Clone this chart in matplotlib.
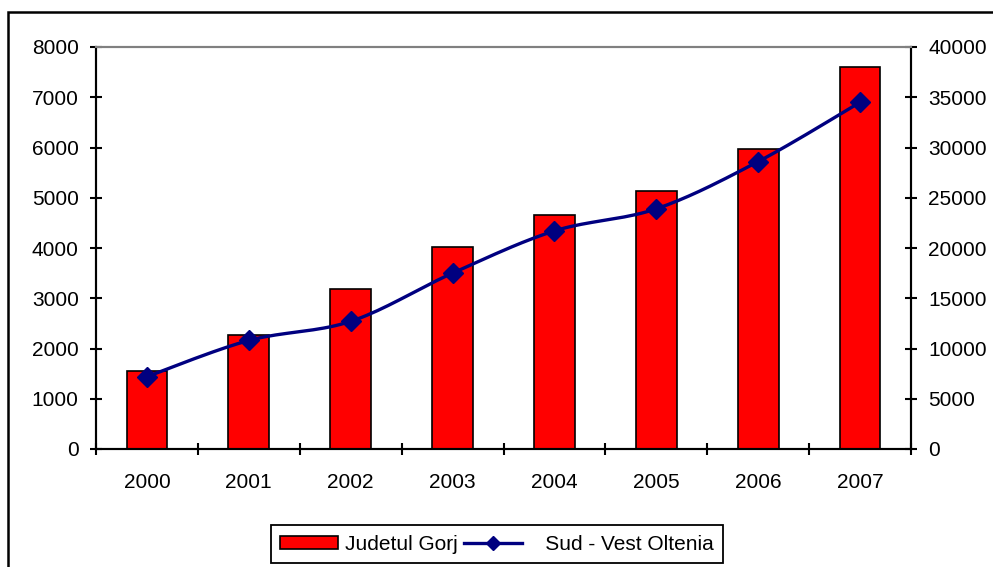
import numpy as np
import matplotlib
matplotlib.use("Agg")
import matplotlib.pyplot as plt
from matplotlib.patches import Rectangle

years = ["2000", "2001", "2002", "2003", "2004", "2005", "2006", "2007"]
gorj = [1550, 2270, 3180, 4020, 4650, 5130, 5970, 7600]
oltenia = [7200, 10800, 12700, 17500, 21700, 23900, 28600, 34500]


def smooth(xs, ys, steps=20):
    # catmull-rom style smoothing, like Excel's "smoothed line"
    xs = np.asarray(xs, float)
    ys = np.asarray(ys, float)
    px = np.concatenate([[xs[0]], xs, [xs[-1]]])
    py = np.concatenate([[ys[0]], ys, [ys[-1]]])
    out_x, out_y = [], []
    t = np.linspace(0, 1, steps)
    for i in range(1, len(px) - 2):
        p0, p1, p2, p3 = (np.array([px[j], py[j]]) for j in range(i - 1, i + 3))
        c1 = p1 + (p2 - p0) / 6
        c2 = p2 - (p3 - p1) / 6
        seg = ((1 - t) ** 3)[:, None] * p1 + (3 * (1 - t) ** 2 * t)[:, None] * c1 \
            + (3 * (1 - t) * t ** 2)[:, None] * c2 + (t ** 3)[:, None] * p2
        out_x.extend(seg[:, 0])
        out_y.extend(seg[:, 1])
    return out_x, out_y


plt.rcParams["font.family"] = ["Liberation Sans", "DejaVu Sans"]
plt.rcParams["font.size"] = 15

fig = plt.figure(figsize=(9.93, 5.67), dpi=100)
ax = fig.add_axes([96 / 993, 1 - 449 / 567, 815 / 993, 402 / 567])
ax2 = ax.twinx()

idx = np.arange(len(years))
bars = ax.bar(idx, gorj, width=0.4, color="#FF0000", edgecolor="black",
              linewidth=1.2, label="Judetul Gorj", zorder=2)
ax.set_xlim(-0.5, len(years) - 0.5)
ax.set_ylim(0, 8000)
ax.set_yticks(range(0, 8001, 1000))

sx, sy = smooth(idx, oltenia)
ax2.plot(sx, sy, color="#000080", lw=2.4, zorder=3)
ax2.plot(idx, oltenia, ls="none", marker="D", ms=10, color="#000080", zorder=4)
ax2.set_ylim(0, 40000)
ax2.set_yticks(range(0, 40001, 5000))

ax.set_xticks(np.arange(-0.5, len(years), 1))
ax.set_xticklabels([])
ax.set_xticks(idx, minor=True)
ax.set_xticklabels(years, minor=True)
ax.tick_params(axis="x", which="minor", length=0, pad=17)
ax.tick_params(axis="x", which="major", direction="inout", length=9, width=1.5)
ax.tick_params(axis="y", direction="inout", length=9, width=1.5, pad=8)
ax2.tick_params(axis="y", direction="inout", length=9, width=1.5, pad=8)

for a in (ax, ax2):
    a.spines["top"].set_color("#808080")
    a.spines["top"].set_linewidth(1.5)
    for s in ("left", "right", "bottom"):
        a.spines[s].set_linewidth(1.5)

line_handle = plt.Line2D([], [], color="#000080", lw=2.4, marker="D", ms=7)
leg = fig.legend([bars, line_handle], ["Judetul Gorj", "   Sud - Vest Oltenia"],
                 loc="center", bbox_to_anchor=(497 / 993, 1 - 544 / 567),
                 ncols=2, frameon=True, fancybox=False, edgecolor="black",
                 framealpha=1, handlelength=2.8, handleheight=0.6,
                 handletextpad=0.3, columnspacing=0.3,
                 borderpad=0.45, borderaxespad=0)
leg.get_frame().set_linewidth(1.3)

fig.patches.append(Rectangle((8 / 993, -0.1), 1.2, 1 - 12 / 567 + 0.1,
                             transform=fig.transFigure, fill=False,
                             edgecolor="black", linewidth=1.8))

fig.savefig("out.png", dpi=100)
